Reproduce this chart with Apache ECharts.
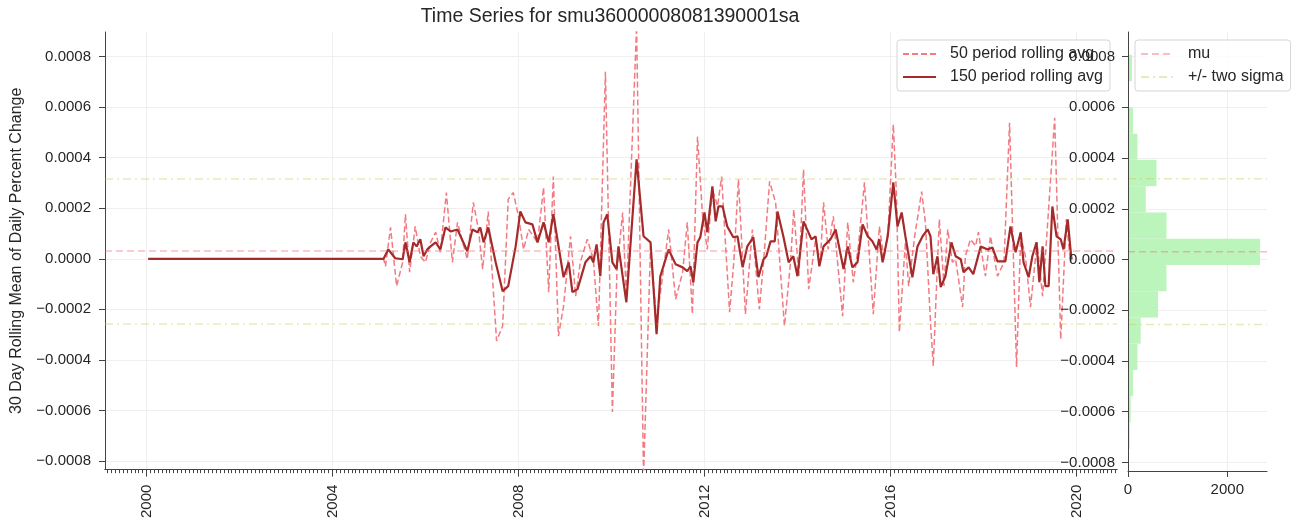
<!DOCTYPE html>
<html><head><meta charset="utf-8">
<script src="https://cdn.jsdelivr.net/npm/echarts@6/dist/echarts.min.js"></script>
<style>html,body{margin:0;padding:0;background:#fff;}#c{width:1301px;height:521px;}</style>
</head><body><div id="c"></div>
<script>
const titleText = 'Time Series for smu36000008081390001sa';
const yAxisTitle = '30 Day Rolling Mean of Daily Percent Change';
const yearTicks = [2000, 2004, 2008, 2012, 2016, 2020];
const valueTicks = [-0.0008, -0.0006, -0.0004, -0.0002, 0, 0.0002, 0.0004, 0.0006, 0.0008];
const countTicks = [0, 2000];

const dates150 = [2000.04,2005.03,2005.10,2005.20,2005.35,2005.51,2005.57,2005.66,2005.74,2005.81,2005.89,2005.96,2006.04,2006.11,2006.22,2006.32,2006.43,2006.54,2006.69,2006.90,2007.01,2007.12,2007.18,2007.25,2007.35,2007.51,2007.66,2007.78,2007.94,2008.04,2008.15,2008.30,2008.41,2008.54,2008.65,2008.75,2008.97,2009.08,2009.16,2009.27,2009.44,2009.55,2009.61,2009.68,2009.76,2009.83,2009.91,2010.02,2010.11,2010.15,2010.32,2010.54,2010.69,2010.84,2010.97,2011.05,2011.23,2011.38,2011.53,2011.63,2011.70,2011.76,2011.85,2011.91,2012.00,2012.06,2012.17,2012.24,2012.30,2012.39,2012.49,2012.62,2012.71,2012.82,2012.92,2013.05,2013.16,2013.27,2013.33,2013.42,2013.51,2013.57,2013.70,2013.81,2013.91,2014.00,2014.13,2014.30,2014.39,2014.47,2014.56,2014.71,2014.82,2014.99,2015.08,2015.18,2015.29,2015.40,2015.51,2015.61,2015.70,2015.76,2015.83,2015.94,2016.06,2016.15,2016.24,2016.32,2016.47,2016.58,2016.69,2016.80,2016.86,2016.92,2017.01,2017.08,2017.18,2017.31,2017.40,2017.51,2017.57,2017.68,2017.78,2017.94,2018.09,2018.19,2018.30,2018.47,2018.58,2018.69,2018.80,2018.86,2018.97,2019.05,2019.14,2019.20,2019.27,2019.33,2019.40,2019.48,2019.57,2019.66,2019.72,2019.81,2019.89];
const roll150 = [0,0,0,0.37e-4,0.02e-4,-0.02e-4,0.65e-4,-0.14e-4,0.65e-4,0.49e-4,0.77e-4,0.10e-4,0.37e-4,0.49e-4,0.65e-4,0.37e-4,1.24e-4,1.08e-4,1.16e-4,0.30e-4,1.16e-4,1.05e-4,1.24e-4,0.65e-4,1.24e-4,-0.14e-4,-1.28e-4,-1.08e-4,0.49e-4,1.87e-4,1.44e-4,1.36e-4,0.65e-4,1.44e-4,0.65e-4,1.76e-4,-0.73e-4,-0.14e-4,-1.32e-4,-1.20e-4,-0.14e-4,0.10e-4,-0.14e-4,0.57e-4,-0.69e-4,1.44e-4,1.76e-4,-0.14e-4,-0.41e-4,0.49e-4,-1.72e-4,3.93e-4,0.89e-4,0.65e-4,-2.98e-4,-0.69e-4,0.37e-4,-0.22e-4,-0.34e-4,-0.49e-4,-0.30e-4,-0.93e-4,0.65e-4,0.85e-4,1.83e-4,1.05e-4,2.86e-4,1.48e-4,2.07e-4,2.07e-4,1.28e-4,0.85e-4,0.89e-4,-0.34e-4,0.49e-4,0.85e-4,-0.73e-4,-0.02e-4,0.10e-4,0.69e-4,0.69e-4,1.87e-4,0.85e-4,-0.14e-4,0.10e-4,-0.69e-4,1.48e-4,0.77e-4,0.89e-4,-0.30e-4,0.49e-4,0.77e-4,1.16e-4,-0.41e-4,0.49e-4,-0.34e-4,-0.14e-4,1.36e-4,0.89e-4,0.69e-4,0.37e-4,0.77e-4,-0.14e-4,0.89e-4,3.02e-4,1.28e-4,1.83e-4,0.89e-4,-0.73e-4,0.49e-4,0.89e-4,1.16e-4,0.89e-4,-0.61e-4,0.10e-4,-1.12e-4,-0.69e-4,0.65e-4,0.10e-4,-0.02e-4,-0.53e-4,-0.34e-4,-0.61e-4,0.49e-4,0.37e-4,0.45e-4,-0.10e-4,-0.10e-4,1.28e-4,0.26e-4,1.05e-4,-0.14e-4,-0.73e-4,0.10e-4,0.65e-4,-0.93e-4,0.49e-4,-1.08e-4,-1.08e-4,2.07e-4,0.89e-4,0.77e-4,0.37e-4,1.56e-4,-0.02e-4];

const dates50 = [2000.04,2005.03,2005.10,2005.14,2005.25,2005.38,2005.51,2005.57,2005.66,2005.78,2005.89,2006.00,2006.11,2006.22,2006.32,2006.45,2006.58,2006.69,2006.90,2007.03,2007.14,2007.23,2007.35,2007.53,2007.66,2007.78,2007.89,2008.00,2008.11,2008.22,2008.41,2008.54,2008.65,2008.75,2008.86,2008.97,2009.12,2009.23,2009.33,2009.48,2009.61,2009.72,2009.87,2010.02,2010.12,2010.24,2010.32,2010.54,2010.69,2010.84,2010.97,2011.23,2011.38,2011.53,2011.63,2011.74,2011.85,2011.96,2012.06,2012.17,2012.28,2012.37,2012.45,2012.54,2012.63,2012.73,2012.88,2013.03,2013.18,2013.27,2013.40,2013.53,2013.63,2013.72,2013.85,2013.92,2014.03,2014.13,2014.24,2014.39,2014.49,2014.56,2014.66,2014.77,2014.97,2015.08,2015.20,2015.31,2015.44,2015.63,2015.76,2015.86,2015.95,2016.06,2016.13,2016.19,2016.32,2016.39,2016.52,2016.67,2016.75,2016.86,2016.92,2017.01,2017.05,2017.15,2017.23,2017.33,2017.40,2017.55,2017.61,2017.72,2017.83,2017.89,2018.04,2018.15,2018.30,2018.44,2018.56,2018.71,2018.80,2018.90,2019.01,2019.15,2019.27,2019.37,2019.53,2019.66,2019.78,2019.87,2019.91];
const roll50 = [0,0,0,-0.30e-4,1.24e-4,-1.08e-4,-0.14e-4,1.76e-4,-0.53e-4,1.28e-4,0.10e-4,-0.14e-4,0.65e-4,1.05e-4,0.26e-4,2.62e-4,-0.14e-4,1.44e-4,-0.02e-4,2.23e-4,1.16e-4,-0.41e-4,1.87e-4,-3.25e-4,-2.66e-4,2.35e-4,2.62e-4,1.69e-4,0.37e-4,1.16e-4,0.65e-4,2.82e-4,-1.32e-4,3.25e-4,-3.06e-4,-1.87e-4,0.89e-4,-1.48e-4,-0.14e-4,0.77e-4,-0.02e-4,-2.66e-4,7.40e-4,-6.06e-4,-0.41e-4,1.83e-4,-1.48e-4,9.2e-4,-8.6e-4,0.49e-4,-2.50e-4,1.16e-4,-1.60e-4,-0.54e-4,1.44e-4,-2.19e-4,4.83e-4,1.68e-4,0.37e-4,2.74e-4,2.08e-4,3.25e-4,0.65e-4,-2.11e-4,-0.14e-4,3.14e-4,-2.19e-4,1.16e-4,-1.99e-4,-0.14e-4,3.06e-4,2.22e-4,-0.41e-4,-2.66e-4,-0.14e-4,1.95e-4,-0.68e-4,3.53e-4,-1.20e-4,0.77e-4,-0.14e-4,2.23e-4,0.37e-4,1.68e-4,-2.27e-4,1.44e-4,-0.93e-4,0.51e-4,3.02e-4,-2.19e-4,1.28e-4,-0.02e-4,1.16e-4,5.31e-4,2.47e-4,-2.90e-4,0.65e-4,-1.08e-4,0.90e-4,2.66e-4,1.43e-4,-2.52e-4,-4.24e-4,-0.14e-4,1.56e-4,-1.07e-4,1.16e-4,-0.14e-4,-0.02e-4,-1.91e-4,0.11e-4,0.77e-4,0.50e-4,1.05e-4,-0.69e-4,0.89e-4,-0.69e-4,-0.14e-4,5.38e-4,-4.28e-4,0.90e-4,0.11e-4,-1.91e-4,0.65e-4,-1.48e-4,1.16e-4,5.58e-4,-3.18e-4,1.56e-4,-0.14e-4,0.10e-4];

const binEdges = [-8.50e-4,-7.47e-4,-6.43e-4,-5.39e-4,-4.36e-4,-3.32e-4,-2.29e-4,-1.25e-4,-0.22e-4,0.82e-4,1.85e-4,2.89e-4,3.93e-4,4.96e-4,6.00e-4,7.03e-4,8.07e-4];
const binCounts = [15,35,55,100,190,256,606,776,2660,776,358,574,190,100,0,80];

const mu = 0.31e-4;
const sigmaUpper = 3.18e-4;
const sigmaLower = -2.56e-4;

// ---- layout / style ----
const FONT = "'Liberation Sans', Arial, sans-serif";
const TXT = '#262626';
const AX = '#444444';
const GRIDC = '#efefef';
const yMin = -0.000834, yMax = 0.000897;
const xMin = 1999.11, xMax = 2020.87;
const histMax = 2800;
const c50 = '#f27a82', c150 = '#a52a2a', cMu = 'rgba(240,110,120,0.45)', cSig = 'rgba(200,200,80,0.4)', cHist = '#bcf5bc';
const dashMu = [7, 4], dashSig = [8, 4, 2, 4];

const minorTicks = [];
for (let y = 1999; y <= 2020; y++) for (let m = 0; m < 12; m++) {
  const v = y + m / 12; if (v >= xMin && v <= xMax) minorTicks.push(v);
}
const fmtVal = v => (v < -1e-12 ? '\u2212' : '') + Math.abs(v).toFixed(4);

const histData = binCounts.map((c, i) => [binEdges[i], binEdges[i + 1], c]);

const chart = echarts.init(document.getElementById('c'), null, {renderer: 'canvas'});
const legendCommon = () => ({
  orient: 'vertical', padding: [6, 7, 6, 5], itemGap: 7, itemWidth: 33, itemHeight: 14, z: 1,
  backgroundColor: 'rgba(255,255,255,0.8)', borderColor: '#d5d5d5', borderWidth: 1, borderRadius: 3,
  itemStyle: {opacity: 0, borderWidth: 0},
  textStyle: {fontFamily: FONT, fontSize: 16, color: TXT, padding: [0, 0, 0, 9]}, selectedMode: false
});
const lineAx = () => ({show: true, onZero: false, lineStyle: {color: AX, width: 1}});
chart.setOption({
  animation: false,
  textStyle: {fontFamily: FONT},
  graphic: [{type: 'text', x: 610, y: 17, style: {text: titleText, font: '19.5px ' + FONT, fill: TXT, textAlign: 'center', textVerticalAlign: 'middle'}}],
  legend: [
    Object.assign({left: 897, top: 40, data: ['50 period rolling avg', '150 period rolling avg']}, legendCommon()),
    Object.assign({left: 1135, top: 40, data: ['mu', '+/- two sigma']}, legendCommon())
  ],
  grid: [
    {left: 105, right: 184, top: 32, bottom: 50},
    {left: 1128, right: 34, top: 32, bottom: 50}
  ],
  xAxis: [
    {type: 'value', gridIndex: 0, min: xMin, max: xMax, position: 'bottom',
     axisLine: lineAx(),
     axisTick: {show: true, customValues: yearTicks, length: 7, lineStyle: {color: AX}},
     axisLabel: {customValues: yearTicks, rotate: 90, margin: 15, fontSize: 15, color: TXT, formatter: v => String(v)},
     splitLine: {show: true, lineStyle: {color: GRIDC}}},
    {type: 'value', gridIndex: 0, min: xMin, max: xMax, position: 'bottom',
     axisLine: lineAx(), axisTick: {show: true, customValues: minorTicks, length: 3.5, lineStyle: {color: AX}},
     axisLabel: {show: false}, splitLine: {show: false}},
    {type: 'value', gridIndex: 1, min: 0, max: histMax, position: 'bottom',
     axisLine: lineAx(),
     axisTick: {show: true, customValues: countTicks, length: 6, lineStyle: {color: AX}},
     axisLabel: {customValues: countTicks, margin: 11, fontSize: 15, color: TXT, formatter: v => String(v)},
     splitLine: {show: true, lineStyle: {color: GRIDC}}}
  ],
  yAxis: [
    {type: 'value', gridIndex: 0, min: yMin, max: yMax,
     name: yAxisTitle, nameLocation: 'middle', nameGap: 80, nameRotate: 90,
     nameTextStyle: {fontSize: 16, color: TXT, fontFamily: FONT},
     axisLine: lineAx(),
     axisTick: {show: true, customValues: valueTicks, length: 6, lineStyle: {color: AX}},
     axisLabel: {customValues: valueTicks, margin: 14, fontSize: 15, color: TXT, formatter: fmtVal},
     splitLine: {show: true, lineStyle: {color: GRIDC}}},
    {type: 'value', gridIndex: 1, min: yMin, max: yMax, z: 10,
     axisLine: lineAx(),
     axisTick: {show: true, customValues: valueTicks, length: 6, lineStyle: {color: AX}},
     axisLabel: {customValues: valueTicks, margin: 13, fontSize: 15, color: TXT, formatter: fmtVal},
     splitLine: {show: false}},
    {type: 'value', gridIndex: 1, min: yMin, max: yMax, z: 0,
     axisLine: {show: false, onZero: false}, axisTick: {show: false, customValues: valueTicks},
     axisLabel: {show: false, customValues: valueTicks},
     splitLine: {show: true, lineStyle: {color: GRIDC}}}
  ],
  series: [
    {name: '50 period rolling avg', type: 'line', xAxisIndex: 0, yAxisIndex: 0, symbol: 'none', z: 3,
     data: dates50.map((d, i) => [d, roll50[i]]),
     lineStyle: {color: c50, width: 1.5, type: [6, 3]}, itemStyle: {color: c50}},
    {name: '150 period rolling avg', type: 'line', xAxisIndex: 0, yAxisIndex: 0, symbol: 'none', z: 4,
     data: dates150.map((d, i) => [d, roll150[i]]),
     lineStyle: {color: c150, width: 2.2}, itemStyle: {color: c150},
     markLine: {silent: true, symbol: 'none', precision: 10, label: {show: false}, animation: false,
       data: [
         {yAxis: mu, lineStyle: {color: cMu, width: 1.5, type: dashMu}},
         {yAxis: sigmaUpper, lineStyle: {color: cSig, width: 1.5, type: dashSig}},
         {yAxis: sigmaLower, lineStyle: {color: cSig, width: 1.5, type: dashSig}}
       ]}},
    {name: 'hist', type: 'custom', xAxisIndex: 2, yAxisIndex: 1, z: 2, data: histData,
     encode: {x: 2, y: [0, 1]},
     renderItem: (params, api) => {
       const p0 = api.coord([0, api.value(1)]);
       const p1 = api.coord([api.value(2), api.value(0)]);
       const cs = params.coordSys;
       const r = echarts.graphic.clipRectByRect(
         {x: p0[0], y: p0[1], width: p1[0] - p0[0], height: p1[1] - p0[1]},
         {x: cs.x, y: cs.y, width: cs.width, height: cs.height});
       return r && {type: 'rect', shape: r, style: {fill: cHist}};
     }},
    {name: 'mu', type: 'line', xAxisIndex: 2, yAxisIndex: 1, symbol: 'none', z: 5,
     data: [[0, mu], [histMax, mu]], lineStyle: {color: cMu, width: 1.5, type: dashMu}, itemStyle: {color: cMu}},
    {name: '+/- two sigma', type: 'line', xAxisIndex: 2, yAxisIndex: 1, symbol: 'none', z: 5,
     data: [[0, sigmaUpper], [histMax, sigmaUpper]], lineStyle: {color: cSig, width: 1.5, type: dashSig}, itemStyle: {color: cSig}},
    {name: '+/- two sigma', type: 'line', xAxisIndex: 2, yAxisIndex: 1, symbol: 'none', z: 5,
     data: [[0, sigmaLower], [histMax, sigmaLower]], lineStyle: {color: cSig, width: 1.5, type: dashSig}, itemStyle: {color: cSig}}
  ]
});
</script></body></html>
